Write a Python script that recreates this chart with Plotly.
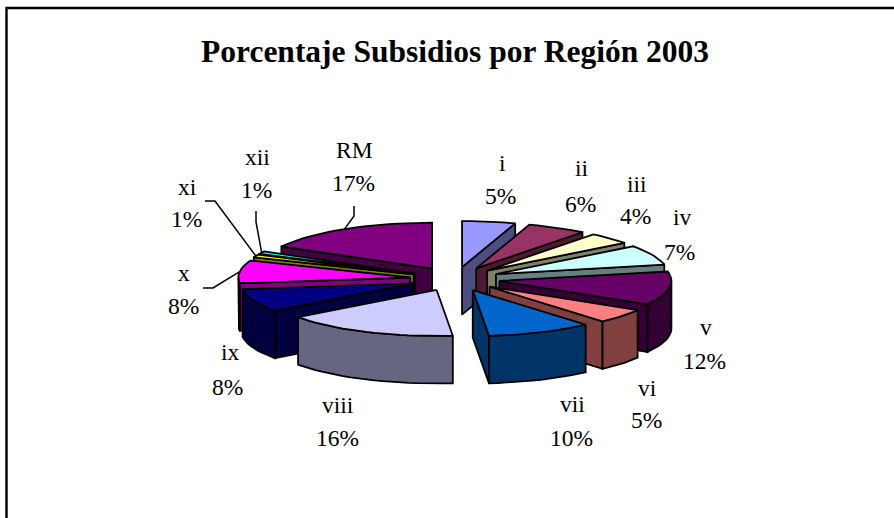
import math
import plotly.graph_objects as go

# --- data ---
regions = ["i", "ii", "iii", "iv", "v", "vi", "vii", "viii", "ix", "x", "xi", "xii", "RM"]
shares = [5.0, 5.6, 4.1, 7.0, 11.8, 5.1, 9.9, 16.4, 8.1, 8.0, 1.0, 1.0, 17.0]
top_colors = ["#9999FF", "#993366", "#FFFFCC", "#CCFFFF", "#660066", "#FF8080", "#0066CC",
              "#CCCCFF", "#000080", "#FF00FF", "#FFFF00", "#00FFFF", "#800080"]
side_colors = ["#4D4D80", "#4D1A33", "#808066", "#668080", "#330033", "#804040", "#003366",
               "#666680", "#000040", "#800080", "#808000", "#008080", "#400040"]
title = "Porcentaje Subsidios por Región 2003"

# --- layout of the 3-D projection ---
CX, CY = 455.0, 279.0
RX, RY = 172.0, 46.0
EX, EY = 45.0, 12.0
DEPTH = 47.5
FONT = "Liberation Serif"
LABEL_FONT_SIZE = 23.5
TITLE_FONT_SIZE = 31.5

name_pos = [(502, 163), (582, 168), (637, 184), (682, 217), (706, 327), (647, 388), (572, 404),
            (338, 405), (230, 352), (184, 273), (187, 187), (257, 157), (354, 150)]
pct_pos = [(500, 196), (580, 204), (635, 216), (679, 252), (704, 361), (646, 420), (571, 438),
           (337, 438), (227, 387), (183, 306), (186, 219), (256, 190), (353, 183)]
# leader lines: region -> (free end, elbow); the third point is on the slice rim
leaders = {"x": ((203, 288), (213, 288)), "xi": ((205, 201), (215, 201)),
           "xii": ((256, 211), (256, 222)), "RM": ((354, 206), (354, 216))}

total = sum(shares)
slices = []
cum = 0.0
for i, v in enumerate(shares):
    a0 = cum / total * 2 * math.pi
    cum += v
    a1 = cum / total * 2 * math.pi
    am = (a0 + a1) / 2
    ox = CX + EX * math.sin(am)
    oy = CY - EY * math.cos(am)
    slices.append(dict(i=i, a0=a0, a1=a1, am=am, ox=ox, oy=oy))


def rim(s, a, dz=0.0):
    return s["ox"] + RX * math.sin(a), s["oy"] - RY * math.cos(a) + dz


def arc(s, a0, a1, dz=0.0):
    n = max(2, int(abs(a1 - a0) / math.radians(3)) + 2)
    return [rim(s, a0 + (a1 - a0) * k / (n - 1), dz) for k in range(n)]


fig = go.Figure()


def poly(pts, color):
    xs = [p[0] for p in pts] + [pts[0][0]]
    ys = [p[1] for p in pts] + [pts[0][1]]
    fig.add_trace(go.Scatter(x=xs, y=ys, mode="lines", fill="toself", fillcolor=color,
                             line=dict(color="black", width=1.8), hoverinfo="skip",
                             showlegend=False))


for s in sorted(slices, key=lambda q: -math.cos(q["am"])):
    side = side_colors[s["i"]]
    apex = (s["ox"], s["oy"])
    apex_low = (s["ox"], s["oy"] + DEPTH)
    # radial wall facing the viewer
    if math.sin(s["a1"]) > 0:
        poly([apex, rim(s, s["a1"]), rim(s, s["a1"], DEPTH), apex_low], side)
    if math.sin(s["a0"]) < 0:
        poly([apex, rim(s, s["a0"]), rim(s, s["a0"], DEPTH), apex_low], side)
    # outer rim wall on the front half
    lo, hi = max(s["a0"], math.pi / 2), min(s["a1"], 3 * math.pi / 2)
    if hi > lo:
        poly(arc(s, lo, hi) + arc(s, hi, lo, DEPTH), side)
    # top face
    poly([apex] + arc(s, s["a0"], s["a1"]), top_colors[s["i"]])

# leader lines
for s in slices:
    name = regions[s["i"]]
    if name in leaders:
        free, elbow = leaders[name]
        end = rim(s, s["am"])
        fig.add_trace(go.Scatter(x=[free[0], elbow[0], end[0]], y=[free[1], elbow[1], end[1]],
                                 mode="lines", line=dict(color="black", width=1.5),
                                 hoverinfo="skip", showlegend=False))

# labels
for name, v, np_, pp in zip(regions, shares, name_pos, pct_pos):
    for txt, pos in ((name, np_), (f"{v / total * 100:.0f}%", pp)):
        fig.add_annotation(x=pos[0], y=pos[1], text=txt, showarrow=False, xanchor="center",
                           yanchor="middle", font=dict(family=FONT, size=LABEL_FONT_SIZE, color="black"))

fig.add_annotation(x=455, y=51, text=f"<b>{title}</b>", showarrow=False, xanchor="center",
                   yanchor="middle", font=dict(family=FONT, size=TITLE_FONT_SIZE, color="black"))

# chart frame, running off the right and bottom edge
fig.add_shape(type="rect", x0=6.5, y0=8, x1=900, y1=530, line=dict(color="black", width=2.4),
              fillcolor="rgba(0,0,0,0)", layer="above")

fig.update_layout(
    width=894, height=518, margin=dict(l=0, r=0, t=0, b=0),
    paper_bgcolor="white", plot_bgcolor="white", showlegend=False,
    xaxis=dict(range=[0, 894], visible=False, fixedrange=True),
    yaxis=dict(range=[518, 0], visible=False, fixedrange=True),
)
fig.write_html("out.html", config={"displayModeBar": False},
               post_script="document.body.style.margin='0';document.body.style.overflow='hidden';")
